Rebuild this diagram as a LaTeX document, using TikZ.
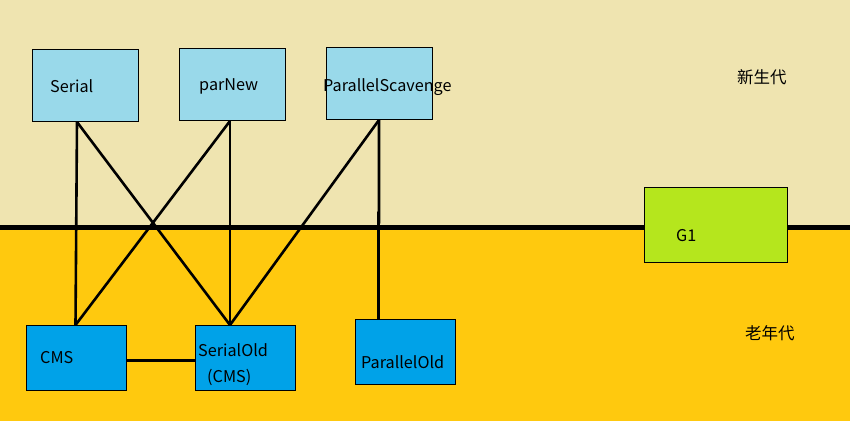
\documentclass[tikz,border=0pt]{standalone}
\usepackage{fontspec}
\setmainfont{Noto Sans CJK SC}
\usetikzlibrary{calc}
\definecolor{cream}{HTML}{EFE4B0}
\definecolor{gold}{HTML}{FFC90E}
\definecolor{ltblue}{HTML}{99D9EA}
\definecolor{dkblue}{HTML}{00A2E8}
\definecolor{lime}{HTML}{B5E61D}
\begin{document}
\begin{tikzpicture}[x=1pt,y=-1pt,
  box/.style={draw=black,line width=1pt,rectangle,inner sep=0pt,anchor=north west},
  young/.style={box,fill=ltblue,minimum width=106pt,minimum height=72pt},
  old/.style={box,fill=dkblue,minimum width=100pt,minimum height=65pt},
  lbl/.style={inner sep=0pt,anchor=base west,font=\fontsize{16.2}{19}\selectfont},
  gen/.style={inner sep=0pt,anchor=west,font=\fontsize{16.5}{19}\selectfont},
  conn/.style={line width=2.6pt,black}]
\useasboundingbox (0,0) rectangle (850,421);
\fill[cream] (0,0) rectangle (850,227.5);
\fill[gold] (0,227.5) rectangle (850,421);
\draw[line width=5pt] (0,227.5) -- (850,227.5);
% boxes
\node[young] (serial) at (32,49) {};
\node[young] (parnew) at (179,48) {};
\node[young] (ps) at (326,47) {};
\node[box,fill=lime,minimum width=143pt,minimum height=75pt] (g1) at (644,187) {};
\node[old] (cms) at (26,325) {};
\node[old] (sold) at (195,325) {};
\node[old] (pold) at (355,319) {};
% labels
\node[lbl] (tserial) at (50,92) {Serial};
\node[lbl] (tparnew) at (199,90.5) {parNew};
\node[lbl] (tps) at (323,91.5) {ParallelScavenge};
\node[lbl] (tg1) at (676,241) {G1};
\node[lbl] (tcms) at (40,363) {CMS};
\node[lbl] (tsold) at (198,356) {SerialOld};
\node[lbl] (tsold2) at (207,382) {(CMS)};
\node[lbl] (tpold) at (361,368.5) {ParallelOld};
\node[gen] (tyoung) at (737,77) {新生代};
\node[gen] (told) at (745,333) {老年代};
% connector points
\coordinate (sb) at ($(serial.south west)+(45,0)$);
\coordinate (pb) at ($(parnew.south west)+(51,0)$);
\coordinate (psb) at ($(ps.south west)+(53,0)$);
\coordinate (ct) at ($(cms.north west)+(49.5,0)$);
\coordinate (st) at ($(sold.north west)+(35,0)$);
\coordinate (pt) at ($(pold.north west)+(23.5,0)$);
\draw[conn] (sb) -- (ct);
\draw[conn] (sb) -- (st);
\draw[conn] (pb) -- (ct);
\draw[conn] (pb) -- (st);
\draw[conn] (psb) -- (st);
\draw[conn] (psb) -- ($(psb)+(0,98)$) -- ($(pt)+(0,-102)$) -- (pt);
\draw[conn] ([yshift=-2.5pt]cms.east) -- ([yshift=-2.5pt]sold.west);
\end{tikzpicture}
\end{document}
